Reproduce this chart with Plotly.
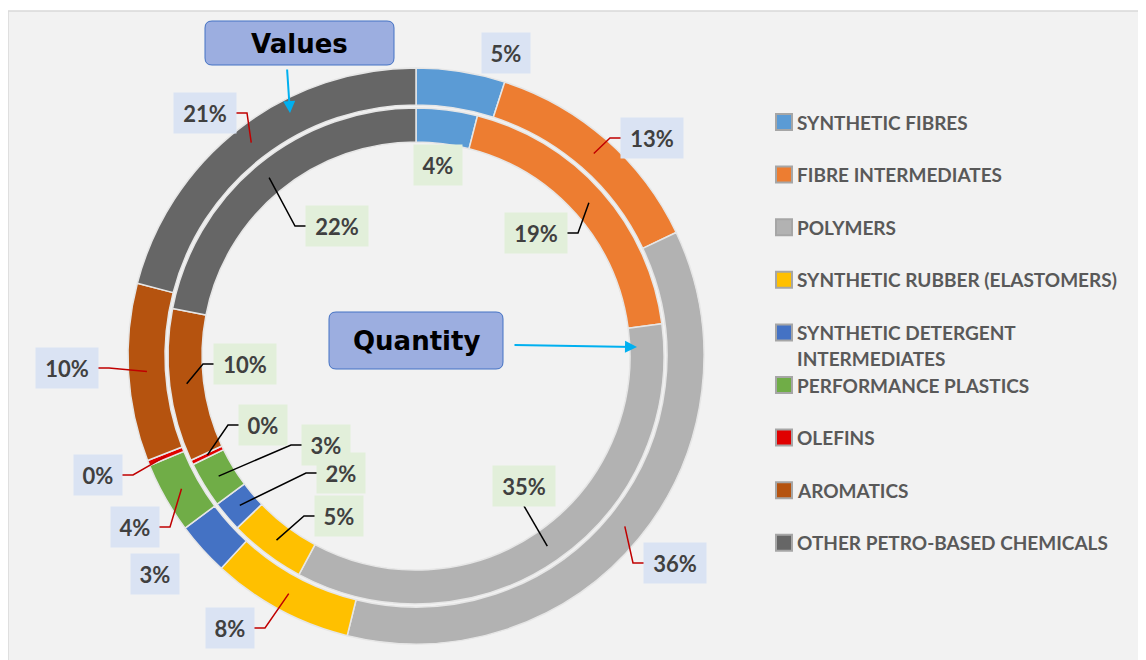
import math
import plotly.graph_objects as go

# ---------------- data ----------------
categories = [
    "SYNTHETIC FIBRES",
    "FIBRE INTERMEDIATES",
    "POLYMERS",
    "SYNTHETIC RUBBER (ELASTOMERS)",
    "SYNTHETIC DETERGENT INTERMEDIATES",
    "PERFORMANCE PLASTICS",
    "OLEFINS",
    "AROMATICS",
    "OTHER PETRO-BASED CHEMICALS",
]
values_share = [5, 13, 36, 8, 3, 4, 0.3, 10, 21]      # outer ring ("Values"), %
quantity_share = [4, 19, 35, 5, 2, 3, 0.3, 10, 22]    # inner ring ("Quantity"), %
legend_text = [
    "SYNTHETIC FIBRES",
    "FIBRE INTERMEDIATES",
    "POLYMERS",
    "SYNTHETIC RUBBER (ELASTOMERS)",
    "SYNTHETIC DETERGENT<br>INTERMEDIATES",
    "PERFORMANCE PLASTICS",
    "OLEFINS",
    "AROMATICS",
    "OTHER PETRO-BASED CHEMICALS",
]

# ---------------- styles / layout ----------------
colors = ["#5b9bd5", "#ed7d31", "#b2b2b2", "#ffc000", "#4472c4",
          "#70ad47", "#e00000", "#b5530f", "#666666"]
W, H = 1146, 660
OFF = 8                      # page body margin
CX, CY = 416, 356            # screen px
R_OUT, R_MID_OUT = 288, 251
R_IN, R_HOLE_IN = 248, 214

# label box centers (screen px) and connector side
outer_lbl = [((506, 53), None), ((652, 138), "left"), ((675, 563), "left"),
             ((230, 628), "right"), ((155, 574), None), ((135, 527), "right"),
             ((98, 475), "right"), ((67, 368), "right"), ((205, 113), "right")]
inner_lbl = [((438, 165), None), ((536, 233), "right"), ((524, 486), "bottom"),
             ((339, 516), "left"), ((341, 473), "left"), ((326, 445), "left"),
             ((263, 425), "left"), ((245, 364), "left"), ((337, 226), "left")]


def px(x):
    return (x - OFF) / W


def py(y):
    return 1 - (y - OFF) / H


def domain(r):
    return dict(x=[px(CX - r), px(CX + r)], y=[py(CY + r), py(CY - r)])


fig = go.Figure()
fig.add_trace(go.Pie(
    values=values_share, labels=categories, hole=R_MID_OUT / R_OUT,
    sort=False, direction="clockwise", rotation=0, domain=domain(R_OUT),
    marker=dict(colors=colors, line=dict(color="#e6e6e6", width=1.5)),
    textinfo="none", showlegend=False, name="Values"))
fig.add_trace(go.Pie(
    values=quantity_share, labels=categories, hole=R_HOLE_IN / R_IN,
    sort=False, direction="clockwise", rotation=0, domain=domain(R_IN),
    marker=dict(colors=colors, line=dict(color="#e6e6e6", width=1.5)),
    textinfo="none", showlegend=False, name="Quantity"))

shapes = [dict(type="rect", xref="paper", yref="paper", x0=px(8), x1=px(1141),
               y0=py(664), y1=py(11), fillcolor="#f2f2f2",
               line=dict(color="#d9d9d9", width=1.5), layer="below")]
annotations = []


def add_labels(vals, lbls, r_a, r_b, bg, linecol):
    total = sum(vals)
    cum = 0
    for v, ((bx, by), side) in zip(vals, lbls):
        mid = (cum + v / 2) / total * 2 * math.pi
        cum += v
        rm = (r_a + r_b) / 2
        ax_ = CX + rm * math.sin(mid)
        ay_ = CY - rm * math.cos(mid)
        txt = f"{round(v)}%"
        bw = 20 + 14 * len(txt)
        bh = 40
        annotations.append(dict(
            x=px(bx), y=py(by), xref="paper", yref="paper", text=txt,
            xanchor="center", yanchor="middle",
            showarrow=False, bgcolor=bg, width=bw, height=bh, borderpad=0,
            font=dict(family="Lato", size=22, color="#404040", weight="bold")))
        if side is None:
            continue
        if side == "left":
            ex, ey = bx - bw / 2, by
            path = f"M{px(ex)},{py(ey)} L{px(ex - 11)},{py(ey)} L{px(ax_)},{py(ay_)}"
        elif side == "right":
            ex, ey = bx + bw / 2, by
            path = f"M{px(ex)},{py(ey)} L{px(ex + 11)},{py(ey)} L{px(ax_)},{py(ay_)}"
        else:
            ex, ey = bx, by + bh / 2
            path = f"M{px(ex)},{py(ey)} L{px(ax_)},{py(ay_)}"
        shapes.append(dict(type="path", xref="paper", yref="paper", path=path,
                           line=dict(color=linecol, width=1.5)))


add_labels(values_share, outer_lbl, R_OUT, R_MID_OUT, "#dae3f3", "#c00000")
add_labels(quantity_share, inner_lbl, R_IN, R_HOLE_IN, "#e2efda", "#000000")


def rounded_rect(x0, y0, x1, y1, r):
    return (f"M{px(x0 + r)},{py(y0)} L{px(x1 - r)},{py(y0)} "
            f"Q{px(x1)},{py(y0)} {px(x1)},{py(y0 + r)} "
            f"L{px(x1)},{py(y1 - r)} Q{px(x1)},{py(y1)} {px(x1 - r)},{py(y1)} "
            f"L{px(x0 + r)},{py(y1)} Q{px(x0)},{py(y1)} {px(x0)},{py(y1 - r)} "
            f"L{px(x0)},{py(y0 + r)} Q{px(x0)},{py(y0)} {px(x0 + r)},{py(y0)} Z")


for (x0, y0, x1, y1, t) in [(205, 21, 394, 65, "Values"),
                            (329, 312, 503, 369, "Quantity")]:
    shapes.append(dict(type="path", xref="paper", yref="paper",
                       path=rounded_rect(x0, y0, x1, y1, 7),
                       fillcolor="#9caee0", line=dict(color="#4472c4", width=1)))
    annotations.append(dict(x=px((x0 + x1) / 2), y=py((y0 + y1) / 2 + 1),
                            xref="paper", yref="paper", text=f"<b>{t}</b>",
                            xanchor="center", yanchor="middle",
                            showarrow=False,
                            font=dict(family="DejaVu Sans", size=26, color="#000000")))

# arrows
for (tx, ty, axo, ayo) in [(290, 113, -3, -45), (637, 347, -124, -2)]:
    annotations.append(dict(x=px(tx), y=py(ty), xref="paper", yref="paper",
                            text="", showarrow=True, ax=axo, ay=ayo,
                            arrowcolor="#00b0f0", arrowwidth=2, arrowhead=2,
                            arrowsize=1.2))

# legend (manual)
for i, (t, c) in enumerate(zip(legend_text, colors)):
    yc = 122 + 52.6 * i
    shapes.append(dict(type="rect", xref="paper", yref="paper",
                       x0=px(776), x1=px(792), y0=py(yc + 8), y1=py(yc - 8),
                       fillcolor=c, line=dict(color="#a6a6a6", width=2)))
    for j, part in enumerate(t.split("<br>")):
        annotations.append(dict(x=px(795), y=py(yc + 26 * j), xref="paper",
                                yref="paper", xanchor="left", yanchor="middle",
                                align="left", text=f"<b>{part}</b>",
                                showarrow=False,
                                font=dict(family="Lato", size=19, color="#595959")))

fig.update_layout(
    width=W, height=H, margin=dict(l=0, r=0, t=0, b=0),
    paper_bgcolor="#ffffff", plot_bgcolor="#ffffff",
    shapes=shapes, annotations=annotations, showlegend=False)

fig.write_html("out.html")
